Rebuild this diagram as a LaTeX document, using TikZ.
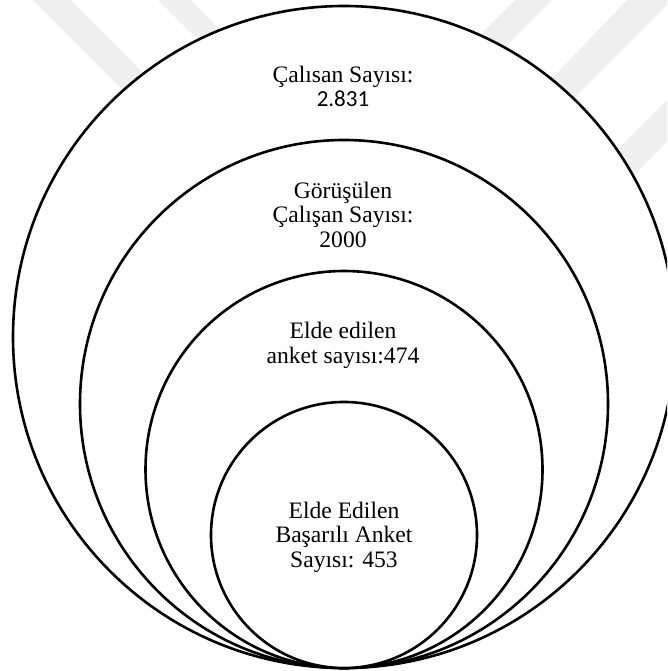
\documentclass[tikz,border=0pt]{standalone}
\usepackage{fontspec}
\setmainfont{Liberation Serif}
\newfontfamily\numfont{Carlito}
\definecolor{wmark}{RGB}{239,239,239}
\tikzset{
  ring/.style={circle, draw=black, line width=2.6pt, fill=white, inner sep=0pt},
  label/.style={align=center, anchor=base, inner sep=0pt,
    font=\fontsize{23.6}{24.5}\selectfont},
  band/.style={fill=wmark, draw=none}
}
\begin{document}
\begin{tikzpicture}[x=1pt,y=-1pt]
\useasboundingbox (0,0) rectangle (667,671);
\clip (0,0) rectangle (667,671);
% faint watermark bands (outside the outer ring)
\fill[band] (33,0) -- (70,0) -- (190,120) -- (153,120) -- cycle;
\fill[band] (158,0) -- (190,0) -- (290,100) -- (258,100) -- cycle;
\fill[band] (515,0) -- (552,0) -- (460,92) -- (423,92) -- cycle;
\fill[band] (627,0) -- (667,0) -- (667,5) -- (560,112) -- (520,112) -- cycle;
\fill[band] (667,100) -- (667,142) -- (600,209) -- (600,167) -- cycle;
% rings
\node[ring, minimum size=662pt] (c1) at (344,337) {};
\node[ring, minimum size=528pt] (c2) at (344,404) {};
\node[ring, minimum size=397pt] (c3) at (344,469.5) {};
\node[ring, minimum size=266pt] (c4) at (344,535) {};
% texts (anchor = baseline of the last line)
\node[label] (t1) at (343,107) {Çalısan Sayısı:\\{\numfont\fontsize{23}{24.5}\selectfont 2.831}};
\node[label] (t2) at (343,247) {Görüşülen\\Çalışan Sayısı:\\2000};
\node[label] (t3) at (343,363) {Elde edilen\\anket sayısı:474};
\node[label] (t4) at (344,567) {Elde Edilen\\Başarılı Anket\\Sayısı: 453};
\end{tikzpicture}
\end{document}
